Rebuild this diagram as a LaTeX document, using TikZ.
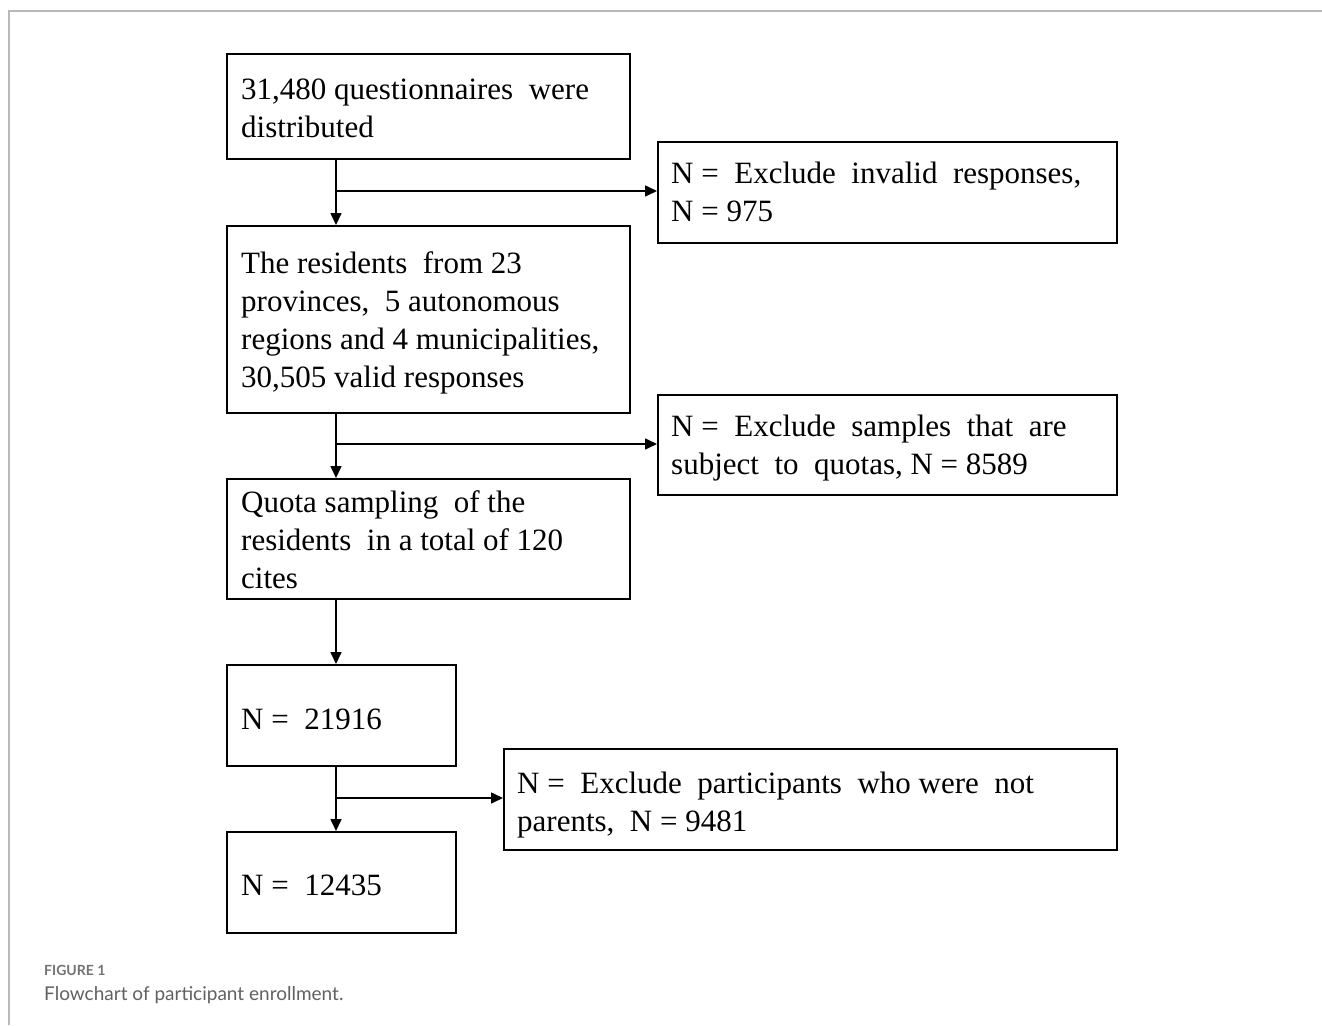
\documentclass[tikz,border=0pt]{standalone}
\usepackage{fontspec}
\setmainfont{Liberation Serif}
\newfontfamily\capfont{Lato}
\usetikzlibrary{arrows.meta}
\begin{document}
\begin{tikzpicture}[x=1pt,y=-1pt,
  boxst/.style={draw=black, line width=1.8pt, minimum width=#1, anchor=north west, inner sep=0pt},
  txt/.style={anchor=base west, align=left, inner sep=0pt, font=\fontsize{31}{38}\selectfont},
  arr/.style={line width=1.6pt, -{Triangle[length=12pt,width=11pt]}}
]
\useasboundingbox (0,0) rectangle (1322,1025);
\fill[white] (0,0) rectangle (1322,1025);
\draw[black!28, line width=2pt] (9,1025) -- (9,11) -- (1322,11);

% boxes
\node[boxst=403pt, minimum height=105pt] (b1) at (226,53) {};
\node[boxst=459pt, minimum height=101pt] (b2) at (657,141) {};
\node[boxst=403pt, minimum height=187pt] (b3) at (226,225) {};
\node[boxst=459pt, minimum height=100pt] (b4) at (657,394) {};
\node[boxst=403pt, minimum height=120pt] (b5) at (226,478) {};
\node[boxst=229pt, minimum height=101pt] (b6) at (226,664) {};
\node[boxst=613pt, minimum height=101pt] (b7) at (503,748) {};
\node[boxst=229pt, minimum height=101pt] (b8) at (226,831) {};

% texts (anchor = baseline of the last line)
\node[txt] (t1) at (241,137) {31,480 questionnaires\ \ were\\distributed};
\node[txt] (t2) at (671,221) {N =\ \ Exclude\ \ invalid\ \ responses,\\N = 975};
\node[txt] (t3) at (241,387) {The residents\ \ from 23\\provinces,\ \ 5 autonomous\\regions and 4 municipalities,\\30,505 valid responses};
\node[txt] (t4) at (671,474) {N =\ \ Exclude\ \ samples\ \ that\ \ are\\subject\ \ to\ \ quotas, N = 8589};
\node[txt] (t5) at (241,588) {Quota sampling\ \ of the\\residents\ \ in a total of 120\\cites};
\node[txt] (t6) at (241,729) {N =\ \ 21916};
\node[txt] (t7) at (517,831) {N =\ \ Exclude\ \ participants\ \ who were\ \ not\\parents,\ \ N = 9481};
\node[txt] (t8) at (241,895) {N =\ \ 12435};

% branch points
\coordinate (s1) at (336,191);
\coordinate (s2) at (336,444);
\coordinate (s3) at (336,798);

\draw[arr] (b1.south -| s1) -- (b3.north -| s1);
\draw[arr] (s1) -- (s1 -| b2.west);
\draw[arr] (b3.south -| s2) -- (b5.north -| s2);
\draw[arr] (s2) -- (s2 -| b4.west);
\draw[arr] (b5.south -| s2) -- (b6.north -| s2);
\draw[arr] (b6.south -| s3) -- (b8.north -| s3);
\draw[arr] (s3) -- (s3 -| b7.west);

% caption
\node[anchor=base west, inner sep=0pt, text=black!55, font=\capfont\bfseries\fontsize{14}{16}\selectfont] (cap1) at (44,975) {FIGURE 1};
\node[anchor=base west, inner sep=0pt, text=black!62, font=\capfont\fontsize{19}{23}\selectfont] (cap2) at (44,1000) {Flowchart of participant enrollment.};
\end{tikzpicture}
\end{document}
